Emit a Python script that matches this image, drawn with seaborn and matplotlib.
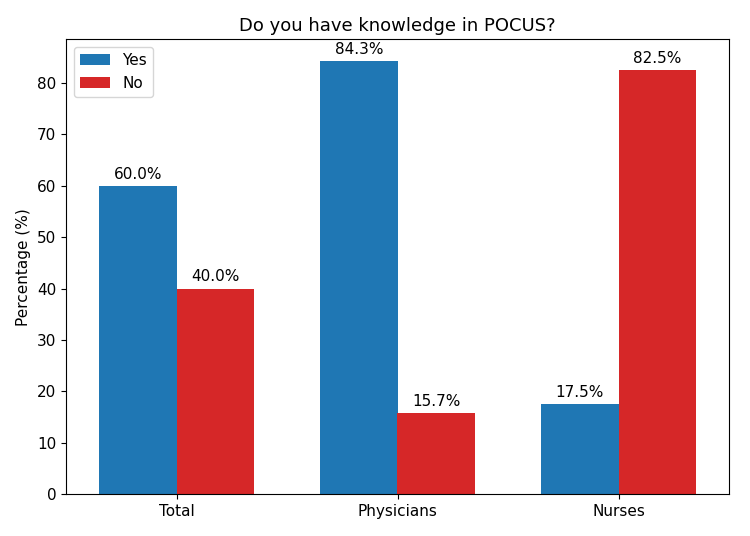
import numpy as np
import pandas as pd
import seaborn as sns
from matplotlib import pyplot as plt

groups = ["Total", "Physicians", "Nurses"]
yes_pct = [60.0, 84.3, 17.5]
no_pct = [40.0, 15.7, 82.5]

df = pd.DataFrame({
    "Group": groups * 2,
    "Answer": ["Yes"] * len(groups) + ["No"] * len(groups),
    "Percentage": yes_pct + no_pct,
})

fig, ax = plt.subplots(figsize=(7.5, 5.36), dpi=100)
sns.barplot(data=df, x="Group", y="Percentage", hue="Answer",
            palette=["#1f77b4", "#d62728"], width=0.7, saturation=1,
            errorbar=None, ax=ax)

for container in ax.containers:
    ax.bar_label(container, fmt="%.1f%%", padding=3, fontsize=11)

ax.set_title("Do you have knowledge in POCUS?", fontsize=13)
ax.set_xlabel("")
ax.set_ylabel("Percentage (%)", fontsize=11)
ax.tick_params(labelsize=11)
ax.legend(loc="upper left", fontsize=11)
ax.margins(y=0.05)

fig.subplots_adjust(left=0.088, right=0.972, top=0.927, bottom=0.078)
fig.savefig("out.png")
